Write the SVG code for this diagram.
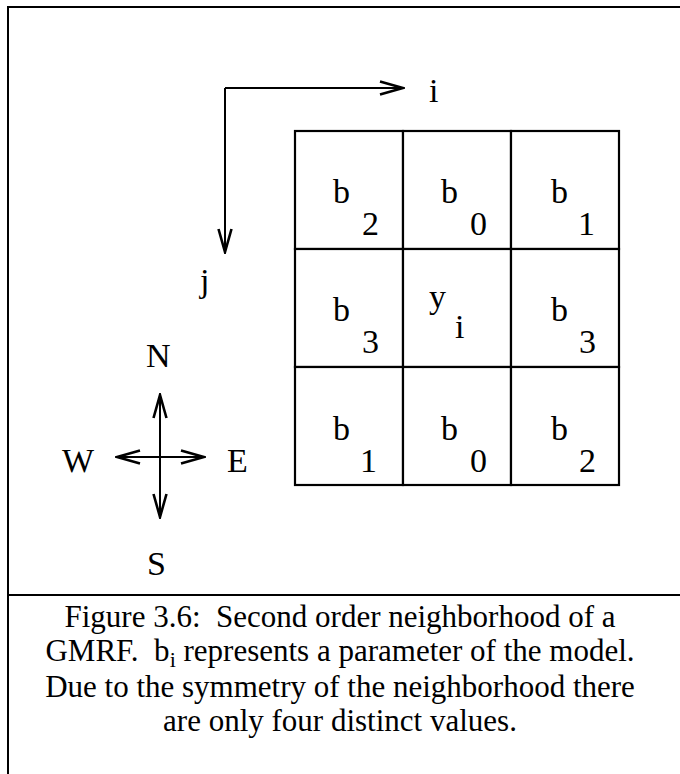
<svg xmlns="http://www.w3.org/2000/svg" width="680" height="774" viewBox="0 0 680 774">
<defs>
<style>
.t{font-family:"Liberation Serif","Times New Roman",serif;font-size:34px;fill:#000}
.c{font-family:"Liberation Serif","Times New Roman",serif;font-size:31px;fill:#000;text-anchor:middle}
.ln{stroke:#000;stroke-width:2;fill:none}
.cell{stroke:#000;stroke-width:2.2;fill:#fff}
</style>
<marker id="ah" viewBox="-26 -10 28 20" refX="0" refY="0" markerWidth="28" markerHeight="20" markerUnits="userSpaceOnUse" orient="auto-start-reverse">
<path d="M-23,-6.5 L0,0 L-23,6.5" fill="none" stroke="#000" stroke-width="2.6" stroke-linejoin="miter"/>
</marker>
</defs>
<rect width="680" height="774" fill="#fff"/>
<g id="frame">
<path class="ln" d="M8,774 V7 H680" stroke-width="2.5"/>
<path class="ln" d="M8,595 H680" stroke-width="2.5"/>
</g>
<g id="connectors">
<path class="ln" d="M225,88 H403" marker-end="url(#ah)"/>
<path class="ln" d="M225,88 V252" marker-end="url(#ah)"/>
<path class="ln" d="M160,395 V517" marker-start="url(#ah)" marker-end="url(#ah)"/>
<path class="ln" d="M117,457 H204" marker-start="url(#ah)" marker-end="url(#ah)"/>
</g>
<g id="axis-labels">
<text class="t" x="429" y="102">i</text>
<text class="t" x="200" y="292">j</text>
</g>
<g id="compass-labels">
<text class="t" x="146" y="367">N</text>
<text class="t" x="62" y="472">W</text>
<text class="t" x="227" y="472">E</text>
<text class="t" x="147" y="575">S</text>
</g>
<g id="grid">
<g id="c00"><rect class="cell" x="295" y="131" width="108" height="118"/><text class="t" x="333" y="203">b</text><text class="t" x="362" y="235">2</text></g>
<g id="c01"><rect class="cell" x="403" y="131" width="108" height="118"/><text class="t" x="441" y="203">b</text><text class="t" x="470" y="235">0</text></g>
<g id="c02"><rect class="cell" x="511" y="131" width="108" height="118"/><text class="t" x="551" y="203">b</text><text class="t" x="578" y="235">1</text></g>
<g id="c10"><rect class="cell" x="295" y="249" width="108" height="118"/><text class="t" x="333" y="321">b</text><text class="t" x="362" y="353">3</text></g>
<g id="c11"><rect class="cell" x="403" y="249" width="108" height="118"/><text class="t" x="429" y="308">y</text><text class="t" x="455" y="338">i</text></g>
<g id="c12"><rect class="cell" x="511" y="249" width="108" height="118"/><text class="t" x="551" y="321">b</text><text class="t" x="579" y="353">3</text></g>
<g id="c20"><rect class="cell" x="295" y="367" width="108" height="118"/><text class="t" x="333" y="440">b</text><text class="t" x="360" y="472">1</text></g>
<g id="c21"><rect class="cell" x="403" y="367" width="108" height="118"/><text class="t" x="441" y="440">b</text><text class="t" x="470" y="472">0</text></g>
<g id="c22"><rect class="cell" x="511" y="367" width="108" height="118"/><text class="t" x="551" y="440">b</text><text class="t" x="579" y="472">2</text></g>
</g>
<g id="caption">
<text class="c" x="340" y="627" xml:space="preserve">Figure 3.6:  Second order neighborhood of a</text>
<text class="c" x="340" y="661" xml:space="preserve">GMRF.  b<tspan font-size="22" dy="6">i</tspan><tspan dy="-6"> represents a parameter of the model.</tspan></text>
<text class="c" x="340" y="697">Due to the symmetry of the neighborhood there</text>
<text class="c" x="340" y="731">are only four distinct values.</text>
</g>
</svg>
